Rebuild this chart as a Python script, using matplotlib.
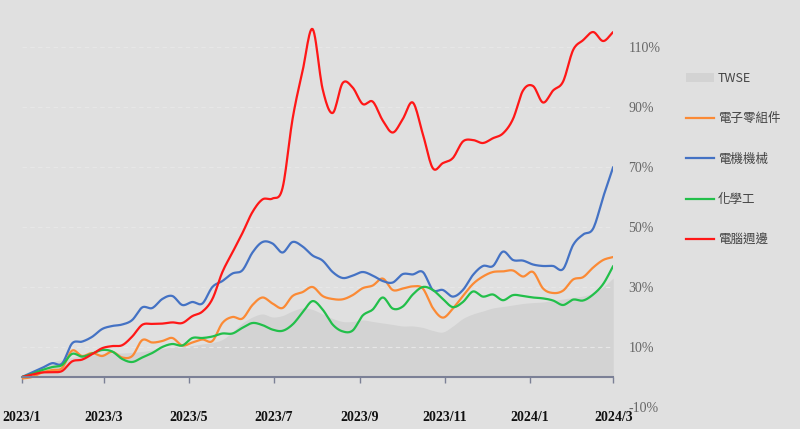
import matplotlib
matplotlib.use("Agg")
import matplotlib.pyplot as plt
import matplotlib.dates as mdates
from matplotlib.patches import Patch
from matplotlib.lines import Line2D
import numpy as np
import pandas as pd

# weekly-ish sample points, cumulative return in %
dates = pd.date_range("2023-01-01", "2024-03-01", periods=60)

twse = [0, 1.5, 3.5, 5, 5.8, 6.5, 7, 7.3, 7.8, 8, 8, 8.2, 8.5, 9, 9.5, 10,
        10, 10.5, 11, 11.5, 12.5, 15, 18, 20, 21, 20, 20.5, 22, 23, 22.5,
        21, 19.5, 18.5, 18.5, 19, 18.5, 18, 17.5, 17, 17, 16.5, 15.5, 15,
        17, 19.5, 21, 22, 23, 23.5, 24, 24.5, 24.8, 25, 25.5, 26, 26.5, 27,
        28, 30, 33]
elec_parts = [-0.5, 0, 1.5, 2.3, 3, 8.8, 7, 8, 7, 8.4, 6.5, 7, 12.3, 11.5, 12,
              13, 10.5, 11.5, 12.5, 12, 18, 20, 19.5, 24, 26.5, 24.5, 23, 27,
              28.3, 30, 27, 26, 25.9, 27.3, 29.6, 30.5, 32.8, 29, 29.5, 30.2,
              29.5, 23, 19.8, 22.8, 27, 31, 33.5, 35, 35.2, 35.5, 33.5, 35,
              29.5, 28, 28.8, 32.5, 33.3, 36.5, 39, 40]
elec_mach = [0, 1.5, 3, 4.6, 4.5, 11.2, 11.8, 13.4, 16, 17, 17.5, 19, 23.2, 23,
             26, 27, 24, 25, 24.5, 30, 32, 34.5, 35.6, 41.5, 45, 44.5, 41.5,
             45, 43.5, 40.5, 38.8, 35, 33, 33.8, 35, 33.8, 32, 31.5, 34.3,
             34.2, 35, 29, 29, 26.8, 29, 34, 37, 37, 41.8, 39, 38.8, 37.5, 37,
             37, 36, 44, 47.5, 49.5, 60, 70]
chemical = [0, 1, 2.3, 3.3, 4, 7.7, 6.8, 7.8, 9, 8.5, 6, 5, 6.5, 8, 10, 11,
            10.5, 13, 13, 13.5, 14.5, 14.5, 16.4, 18, 17.3, 15.8, 15.4, 17.5,
            21.5, 25.3, 22.5, 17.5, 15.2, 15.5, 20.5, 22.5, 26.5, 22.8, 23.5,
            27.5, 30, 29, 26, 23.3, 25, 28.5, 26.8, 27.5, 25.6, 27.3, 27,
            26.5, 26.2, 25.5, 24, 25.8, 25.5, 27.5, 31, 37]
peripherals = [0, 0.8, 1.5, 1.6, 2, 5.2, 5.8, 7.6, 9.6, 10.3, 10.6, 13.5, 17.4,
               17.7, 17.8, 18.2, 18, 20.3, 21.8, 26, 35, 41.5, 48, 55, 59.2,
               59.5, 63, 86, 102, 116, 96, 88, 98, 96.5, 91, 91.8, 85.5, 81.5,
               86, 91.5, 81, 69.6, 71.3, 73, 78.5, 79, 78, 79.6, 81.2, 86,
               95.5, 97, 91.5, 95.5, 98.5, 109, 112.3, 115, 112, 115]

tick_dates = pd.date_range("2023-01-01", "2024-03-01", freq="2MS")
tick_labels = ["2023/1", "2023/3", "2023/5", "2023/7", "2023/9", "2023/11",
               "2024/1", "2024/3"]
y_ticks = [-10, 10, 30, 50, 70, 90, 110]

BG = "#e0e0e0"


def smooth(x, y, n=12):
    # catmull-rom through the points, so the curve keeps the read values
    y = np.asarray(y, dtype=float)
    x = np.asarray(x, dtype=float)
    p = np.concatenate([[2 * y[0] - y[1]], y, [2 * y[-1] - y[-2]]])
    t = np.linspace(0, 1, n, endpoint=False)
    xs, ys = [], []
    for i in range(len(y) - 1):
        p0, p1, p2, p3 = p[i], p[i + 1], p[i + 2], p[i + 3]
        ys.append(0.5 * (2 * p1 + (-p0 + p2) * t
                         + (2 * p0 - 5 * p1 + 4 * p2 - p3) * t ** 2
                         + (-p0 + 3 * p1 - 3 * p2 + p3) * t ** 3))
        xs.append(x[i] + (x[i + 1] - x[i]) * t)
    xs.append([x[-1]])
    ys.append([y[-1]])
    return np.concatenate(xs), np.concatenate(ys)


xnum = mdates.date2num(dates)

fig = plt.figure(figsize=(8, 4.29), dpi=100, facecolor=BG)
ax = fig.add_axes([0.0275, 0.0513, 0.739, 0.909], facecolor=BG)

xs, ys = smooth(xnum, twse)
ax.fill_between(xs, 0, ys, color="#d3d3d3", lw=0, zorder=1)

series = [
    (elec_parts, "#fb8a35"),
    (elec_mach, "#4472c4"),
    (chemical, "#22bf4a"),
    (peripherals, "#ff1717"),
]
for vals, col in series:
    xs, ys = smooth(xnum, vals)
    ax.plot(xs, ys, color=col, lw=1.6, zorder=3, solid_capstyle="round")

ax.set_xlim(mdates.date2num(pd.Timestamp("2023-01-01")),
            mdates.date2num(pd.Timestamp("2024-03-01")))
ax.set_ylim(-10, 120)

for s in ["top", "left", "right"]:
    ax.spines[s].set_visible(False)
ax.spines["bottom"].set_position(("data", 0))
ax.spines["bottom"].set_color("#7b8096")
ax.spines["bottom"].set_linewidth(1.5)
ax.spines["bottom"].set_zorder(4)

ax.set_xticks(mdates.date2num(tick_dates))
ax.tick_params(axis="x", length=4, width=1, color="#7b8096",
               labelbottom=False, direction="out")
for d, lab in zip(tick_dates, tick_labels):
    ax.text(mdates.date2num(d), -0.028, lab, transform=ax.get_xaxis_transform(),
            ha="center", va="center", fontsize=10, fontweight="bold",
            family="Liberation Serif", color="#111111")

ax.yaxis.tick_right()
ax.set_yticks(y_ticks)
ax.set_yticklabels([f"{v}%" for v in y_ticks], family="Liberation Serif",
                   fontsize=10, color="#666666")
ax.tick_params(axis="y", length=0, pad=11)
ax.grid(axis="y", color="#e7e7e7", lw=0.8, ls=(0, (4, 3)), zorder=0)

handles = [
    Patch(facecolor="#d3d3d3", edgecolor="none"),
    Line2D([], [], color="#fb8a35", lw=1.6),
    Line2D([], [], color="#4472c4", lw=1.6),
    Line2D([], [], color="#22bf4a", lw=1.6),
    Line2D([], [], color="#ff1717", lw=1.6),
]
labels = ["TWSE", "電子零組件", "電機機械", "化學工", "電腦週邊"]
leg = fig.legend(handles, labels, loc="upper left",
                 bbox_to_anchor=(0.858, 0.833), frameon=False,
                 prop={"family": ["Noto Sans CJK TC", "DejaVu Sans"], "size": 9},
                 handlelength=2.2, handletextpad=0.3, labelspacing=2.2,
                 borderpad=0, borderaxespad=0)
for t in leg.get_texts():
    t.set_color("#444444")

fig.savefig("out.png", dpi=100, facecolor=BG)
